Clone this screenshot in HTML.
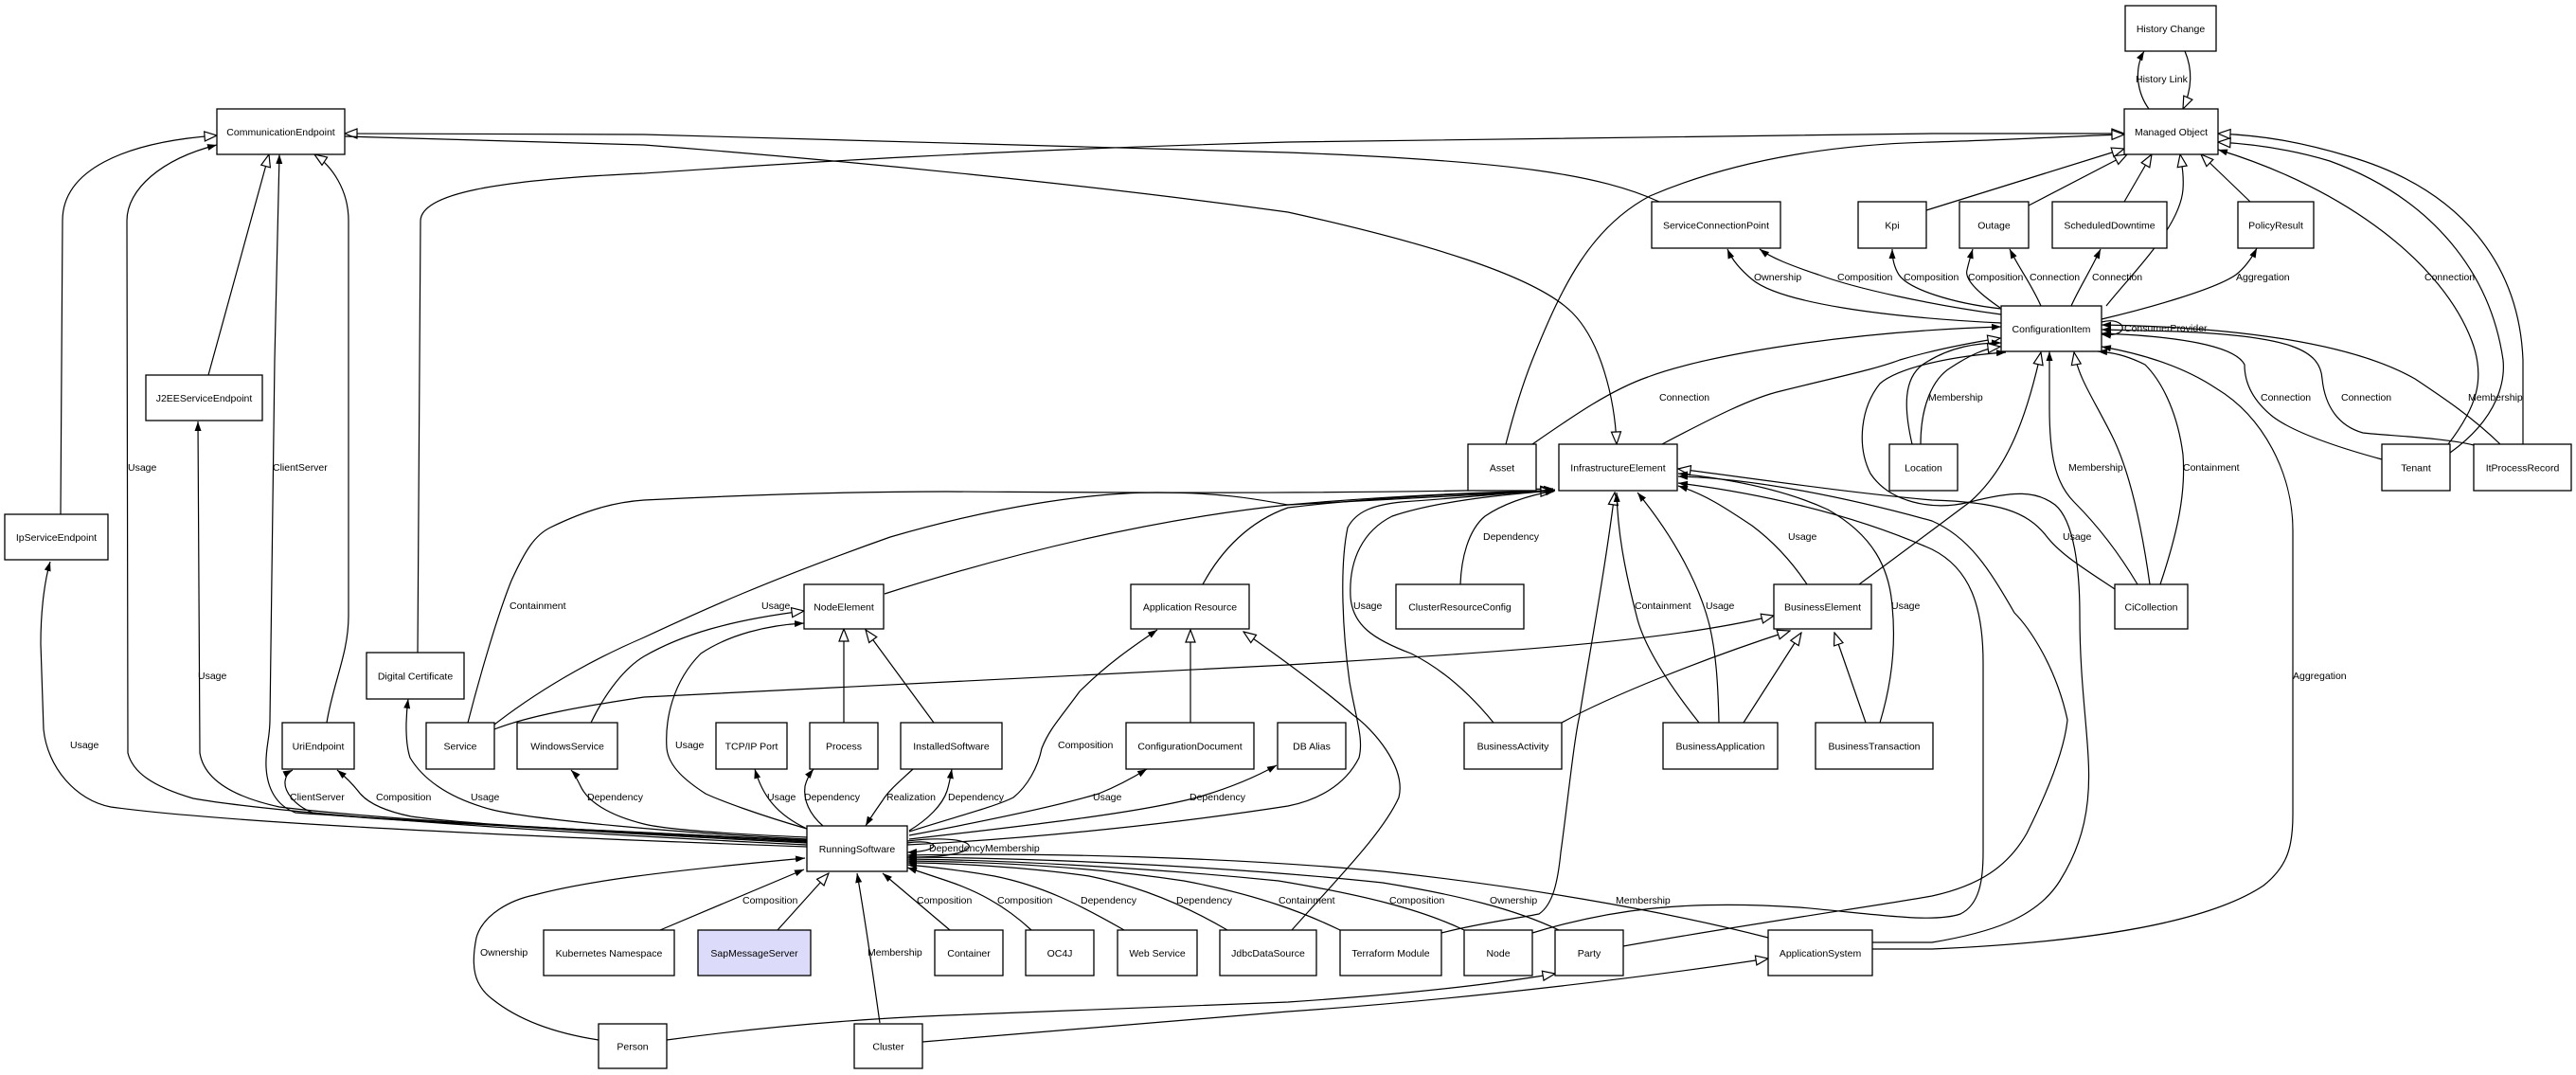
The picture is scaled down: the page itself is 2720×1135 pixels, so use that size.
<!DOCTYPE html>
<html><head><meta charset="utf-8"><style>
html,body{margin:0;padding:0;background:#fff;}
svg{display:block;}
text{font-family:"Liberation Sans",Arial,sans-serif;font-size:10.5px;fill:#000;}
.n{text-anchor:middle;}
path.e{fill:none;stroke:#000;stroke-width:1.2;}
rect{fill:#fff;stroke:#000;stroke-width:1.3;}
</style></head><body>
<svg width="2720" height="1135" viewBox="0 0 2720 1135" xmlns="http://www.w3.org/2000/svg">
<defs>
<marker id="f" viewBox="0 0 10 7" refX="10" refY="3.5" markerWidth="10" markerHeight="7" markerUnits="userSpaceOnUse" orient="auto"><path d="M0,0L10,3.5L0,7z" fill="#000"/></marker>
<marker id="h" viewBox="0 0 15 12" refX="14" refY="6" markerWidth="15" markerHeight="12" markerUnits="userSpaceOnUse" orient="auto"><path d="M1,1L14,6L1,11z" fill="#fff" stroke="#000" stroke-width="1.2"/></marker>
</defs>
<rect x="0" y="0" width="2720" height="1135" style="fill:#fff;stroke:none"/>

<!-- ===== EDGES ===== -->
<g>
<!-- History -->
<path class="e" marker-end="url(#f)" d="M2269,115 C2258,100 2252,75 2264,54"/>
<path class="e" marker-end="url(#h)" d="M2307,54 C2316,75 2314,95 2305,115"/>
<!-- SCP -> CE -->
<path class="e" marker-end="url(#h)" d="M1752,213 C1690,185 1600,170 1360,161 L680,142 L364,141"/>
<!-- CE -> IE -->
<path class="e" marker-end="url(#h)" d="M364,144 C500,147 600,150 680,153 C900,170 1150,195 1360,224 C1500,255 1620,290 1660,330 C1690,360 1705,420 1707,469"/>
<!-- DC -> MO -->
<path class="e" marker-end="url(#h)" d="M441,689 L444,233 C445,205 520,190 680,183 C800,175 1000,160 1360,150 L2040,141 L2243,141"/>
<!-- Asset -> MO -->
<path class="e" marker-end="url(#h)" d="M1590,469 C1600,430 1610,400 1618,380 C1650,300 1680,240 1742,207 C1840,165 1950,152 2040,150 C2120,148 2200,143 2243,142"/>
<path class="e" marker-end="url(#h)" d="M2034,222 L2243,157"/>
<path class="e" marker-end="url(#h)" d="M2142,217 L2246,163"/>
<path class="e" marker-end="url(#h)" d="M2243,213 L2272,163"/>
<path class="e" marker-end="url(#h)" d="M2224,323 C2250,290 2302,240 2305,200 C2306,185 2304,175 2302,163"/>
<path class="e" marker-end="url(#h)" d="M2376,213 L2324,163"/>
<path class="e" marker-end="url(#f)" d="M2585,469 C2615,430 2625,400 2610,360 C2580,280 2480,200 2342,158"/>
<path class="e" marker-end="url(#h)" d="M2587,478 C2640,440 2645,400 2643,380 C2630,290 2570,210 2460,170 C2420,158 2380,152 2342,150"/>
<path class="e" marker-end="url(#h)" d="M2664,469 L2664,380 C2660,280 2600,200 2480,165 C2430,150 2390,143 2342,141"/>
<!-- CI top edges -->
<path class="e" marker-end="url(#f)" d="M2113,341 C1990,335 1880,320 1850,295 C1838,285 1829,275 1824,263"/>
<path class="e" marker-end="url(#f)" d="M2113,332 C2040,322 1960,305 1920,290 C1890,280 1870,272 1858,263"/>
<path class="e" marker-end="url(#f)" d="M2113,326 C2060,320 2015,305 2005,290 C2000,282 1998,272 1998,263"/>
<path class="e" marker-end="url(#f)" d="M2112,325 C2090,310 2074,295 2077,285 C2079,276 2081,270 2083,263"/>
<path class="e" marker-end="url(#f)" d="M2155,323 C2145,300 2133,285 2122,263"/>
<path class="e" marker-end="url(#f)" d="M2187,323 C2195,305 2205,290 2218,263"/>
<path class="e" marker-end="url(#f)" d="M2219,337 C2270,325 2340,305 2361,290 C2370,283 2378,272 2383,262"/>
<path class="e" marker-end="url(#f)" d="M2219,340 C2245,333 2252,357 2219,353"/>
<!-- into CI -->
<path class="e" marker-end="url(#f)" d="M1618,469 C1660,440 1700,412 1740,398 C1800,375 1950,350 2113,345"/>
<path class="e" marker-end="url(#h)" d="M1755,469 C1810,440 1850,420 1880,413 C1940,398 1980,390 2006,380 C2040,370 2080,362 2112,357"/>
<path class="e" marker-end="url(#f)" d="M2019,469 C2010,430 2010,400 2030,385 C2060,365 2090,362 2113,362"/>
<path class="e" marker-end="url(#h)" d="M2028,469 C2028,430 2040,400 2060,388 C2080,375 2095,368 2112,366"/>
<path class="e" marker-end="url(#f)" d="M1977,995 L2040,995 C2100,985 2150,970 2175,930 C2200,890 2208,850 2205,800 C2203,760 2196,713 2196,650 C2196,600 2190,550 2170,533 C2150,518 2127,518 2080,530 C2040,540 1995,530 1975,500 C1960,470 1965,430 1985,405 C2005,388 2060,376 2118,372"/>
<path class="e" marker-end="url(#f)" d="M1618,985 C1700,960 1780,950 1900,958 C1980,965 2040,975 2070,965 C2090,955 2094,930 2094,900 L2094,700 C2094,640 2080,600 2040,580 C1950,540 1850,520 1772,510"/>
<path class="e" marker-end="url(#f)" d="M1714,999 C1850,975 1990,955 2040,946 C2090,935 2120,915 2140,880 C2165,830 2180,790 2183,760 C2170,700 2140,660 2127,647 C2100,600 2079,567 2040,550 C1950,525 1850,505 1772,503"/>
<path class="e" marker-end="url(#h)" d="M2233,622 C2200,600 2175,585 2160,565 C2140,540 2110,530 2040,528 C1950,520 1850,505 1772,495"/>
<path class="e" marker-end="url(#f)" d="M2257,617 C2235,580 2210,550 2190,530 C2170,510 2164,480 2164,430 L2164,371"/>
<path class="e" marker-end="url(#h)" d="M2270,617 C2262,560 2250,500 2230,460 C2210,420 2195,400 2190,372"/>
<path class="e" marker-end="url(#f)" d="M2281,617 C2300,560 2308,520 2305,480 C2300,440 2285,405 2265,385 C2245,375 2230,372 2215,371"/>
<path class="e" marker-end="url(#h)" d="M1963,617 C2000,590 2040,560 2080,530 C2120,495 2140,440 2155,372"/>
<path class="e" marker-end="url(#f)" d="M2612,470 C2580,462 2520,460 2495,457 C2470,450 2455,430 2452,400 C2450,370 2420,355 2300,350 L2219,348"/>
<path class="e" marker-end="url(#f)" d="M2515,485 C2460,470 2420,455 2400,440 C2375,420 2370,400 2370,385 C2360,365 2300,355 2219,352"/>
<path class="e" marker-end="url(#f)" d="M2640,469 C2610,440 2580,420 2550,400 C2480,360 2350,345 2219,343"/>
<path class="e" marker-end="url(#f)" d="M1977,1002 L2040,1002 C2200,995 2330,975 2390,935 C2415,915 2421,895 2421,860 L2421,560 C2421,500 2390,440 2340,410 C2310,390 2270,375 2219,366"/>
<!-- Left side: CE -->
<path class="e" marker-end="url(#h)" d="M64,543 L66,233 C66,180 130,150 229,143"/>
<path class="e" marker-end="url(#h)" d="M345,763 C352,720 368,690 368,650 L368,233 C368,200 350,175 332,163"/>
<path class="e" marker-end="url(#h)" d="M220,396 L284,163"/>
<!-- RS left bundle -->
<path class="e" marker-end="url(#f)" d="M852,894 C600,885 250,870 117,852 C80,845 50,810 46,770 L43,680 C43,640 48,610 53,593"/>
<path class="e" marker-end="url(#f)" d="M852,892 C600,880 300,860 204,843 C160,830 140,815 135,795 L134,233 C134,200 170,168 229,153"/>
<path class="e" marker-end="url(#f)" d="M852,890 C650,880 400,865 295,852 C240,840 215,820 211,795 L209,445"/>
<path class="e" marker-end="url(#f)" d="M852,889 C650,878 400,865 312,858 C290,850 282,830 281,810 C280,790 285,780 285,760 L290,380 L295,163"/>
<path class="e" marker-end="url(#f)" d="M852,888 C650,876 400,868 330,858 C310,850 300,835 301,825 C302,818 305,815 309,813"/>
<path class="e" marker-end="url(#f)" d="M852,887 C700,880 500,872 434,862 C400,855 385,845 378,835 C370,825 362,818 356,813"/>
<path class="e" marker-end="url(#f)" d="M852,886 C720,880 560,865 520,855 C470,842 445,820 433,800 C428,785 428,760 431,738"/>
<path class="e" marker-end="url(#f)" d="M852,884 C760,880 700,875 680,870 C640,860 620,845 613,830 C608,820 605,815 603,813"/>
<!-- Service / WS / NE -->
<path class="e" marker-end="url(#f)" d="M494,763 C505,720 525,650 540,613 C555,580 565,565 581,557 C620,538 650,530 680,528 C800,522 900,519 1000,519 C1200,520 1400,522 1640,516"/>
<path class="e" marker-end="url(#h)" d="M522,765 C580,720 640,690 680,673 C740,645 810,613 940,567 C1050,535 1150,520 1222,520 C1300,520 1340,530 1360,533 L1640,518"/>
<path class="e" marker-end="url(#h)" d="M522,770 C560,755 620,745 680,736 L1360,702 C1550,690 1750,680 1873,650"/>
<path class="e" marker-end="url(#h)" d="M624,763 C640,730 660,705 680,693 C720,670 770,655 849,645"/>
<path class="e" marker-end="url(#f)" d="M852,875 C800,860 760,845 745,838 C725,825 706,810 704,790 C702,760 710,720 740,690 C770,670 810,660 849,658"/>
<path class="e" marker-end="url(#h)" d="M891,763 L891,664"/>
<path class="e" marker-end="url(#h)" d="M986,763 L914,665"/>
<path class="e" marker-end="url(#h)" d="M934,627 C1050,590 1200,550 1360,533 C1450,525 1550,520 1640,518"/>
<path class="e" marker-end="url(#h)" d="M1270,617 C1290,580 1320,550 1360,536 C1450,525 1560,520 1640,519"/>
<path class="e" marker-end="url(#f)" d="M960,878 C1010,862 1050,852 1070,842 C1085,830 1096,810 1100,790 C1108,770 1118,760 1140,730 C1170,700 1200,680 1222,665"/>
<path class="e" marker-end="url(#h)" d="M1257,763 L1257,665"/>
<path class="e" marker-end="url(#h)" d="M1364,982 C1410,930 1460,880 1477,842 C1485,810 1450,770 1429,755 C1400,730 1360,700 1313,667"/>
<path class="e" marker-end="url(#f)" d="M1542,617 C1543,590 1550,560 1568,545 C1590,530 1620,522 1642,518"/>
<path class="e" marker-end="url(#f)" d="M958,892 C1100,885 1250,868 1360,851 C1390,845 1420,830 1435,800 C1440,780 1432,760 1425,720 C1418,670 1414,600 1423,557 C1432,540 1450,533 1480,530 C1550,525 1600,520 1642,517"/>
<path class="e" marker-end="url(#f)" d="M1577,763 C1550,730 1520,705 1490,690 C1450,675 1428,660 1426,630 C1424,590 1440,560 1470,545 C1520,528 1600,521 1642,518"/>
<path class="e" marker-end="url(#h)" d="M1522,985 C1560,975 1600,970 1625,965 C1640,955 1645,930 1648,900 C1655,850 1662,780 1668,755 C1680,680 1695,600 1705,520"/>
<path class="e" marker-end="url(#f)" d="M1794,763 C1760,720 1735,680 1728,650 C1715,600 1708,560 1707,520"/>
<path class="e" marker-end="url(#f)" d="M1815,763 C1814,720 1812,690 1805,660 C1795,620 1770,570 1729,520"/>
<path class="e" marker-end="url(#h)" d="M1841,763 L1902,668"/>
<path class="e" marker-end="url(#h)" d="M1649,763 C1700,735 1800,695 1890,666"/>
<path class="e" marker-end="url(#h)" d="M1970,763 L1937,668"/>
<path class="e" marker-end="url(#f)" d="M1908,617 C1890,590 1870,570 1850,555 C1820,535 1800,522 1772,513"/>
<path class="e" marker-end="url(#f)" d="M1985,763 C1998,720 2002,680 1998,640 C1995,600 1978,565 1930,538 C1880,515 1820,505 1772,500"/>
<!-- RS top -->
<path class="e" marker-end="url(#f)" d="M852,875 C820,860 805,840 797,812"/>
<path class="e" marker-end="url(#f)" d="M869,872 C855,860 848,845 850,830 C852,822 855,817 859,812"/>
<path class="e" marker-end="url(#f)" d="M964,812 C950,825 938,835 932,845 C925,855 918,865 914,872"/>
<path class="e" marker-end="url(#f)" d="M960,877 C980,865 995,850 1000,835 C1003,825 1004,818 1005,812"/>
<path class="e" marker-end="url(#f)" d="M960,882 C1050,865 1120,850 1160,838 C1180,830 1198,820 1211,812"/>
<path class="e" marker-end="url(#f)" d="M960,886 C1100,870 1200,858 1260,843 C1300,832 1330,818 1348,808"/>
<path class="e" marker-end="url(#f)" d="M958,890 C990,885 1000,898 958,900"/>
<path class="e" marker-end="url(#f)" d="M958,888 C1040,878 1050,906 958,905"/>
<!-- bottom into RS -->
<path class="e" marker-end="url(#f)" d="M632,1098 C580,1090 545,1075 520,1055 C500,1040 497,1020 503,990 C510,965 540,950 564,945 C620,930 700,920 850,906"/>
<path class="e" marker-end="url(#f)" d="M697,982 L849,918"/>
<path class="e" marker-end="url(#h)" d="M821,982 L875,922"/>
<path class="e" marker-end="url(#f)" d="M929,1080 C922,1030 915,980 905,922"/>
<path class="e" marker-end="url(#f)" d="M1003,982 L932,922"/>
<path class="e" marker-end="url(#f)" d="M1089,982 C1060,955 1030,940 1000,930 C985,925 970,920 958,916"/>
<path class="e" marker-end="url(#f)" d="M1187,982 C1140,955 1100,935 1050,925 C1010,918 980,915 958,913"/>
<path class="e" marker-end="url(#f)" d="M1296,982 C1250,955 1200,935 1150,925 C1080,915 1000,911 958,911"/>
<path class="e" marker-end="url(#f)" d="M1415,982 C1380,965 1330,945 1250,930 C1150,915 1050,910 958,909"/>
<path class="e" marker-end="url(#f)" d="M1546,982 C1500,960 1440,945 1350,930 C1200,915 1050,908 958,907"/>
<path class="e" marker-end="url(#f)" d="M1646,982 C1600,960 1540,945 1460,932 C1300,915 1100,906 958,905"/>
<path class="e" marker-end="url(#f)" d="M1867,990 C1750,960 1600,935 1460,920 C1300,905 1100,900 958,903"/>
<path class="e" marker-end="url(#h)" d="M704,1098 C800,1085 900,1076 1000,1072 L1360,1058 C1450,1052 1560,1042 1642,1028"/>
<path class="e" marker-end="url(#h)" d="M974,1100 L1360,1068 C1550,1055 1750,1030 1867,1012"/>
</g>

<!-- ===== NODES ===== -->
<g>
<rect x="229" y="115" width="135" height="48"/><text class="n" x="296.5" y="143">CommunicationEndpoint</text>
<rect x="2244" y="6" width="96" height="48"/><text class="n" x="2292" y="34">History Change</text>
<rect x="2243" y="115" width="99" height="48"/><text class="n" x="2292.5" y="143">Managed Object</text>
<rect x="1744" y="213" width="136" height="49"/><text class="n" x="1812" y="241.5">ServiceConnectionPoint</text>
<rect x="1962" y="213" width="72" height="49"/><text class="n" x="1998" y="241.5">Kpi</text>
<rect x="2069" y="213" width="73" height="49"/><text class="n" x="2105.5" y="241.5">Outage</text>
<rect x="2167" y="213" width="121" height="49"/><text class="n" x="2227.5" y="241.5">ScheduledDowntime</text>
<rect x="2363" y="213" width="80" height="49"/><text class="n" x="2403" y="241.5">PolicyResult</text>
<rect x="2113" y="323" width="106" height="48"/><text class="n" x="2166" y="351">ConfigurationItem</text>
<rect x="154" y="396" width="123" height="48"/><text class="n" x="215.5" y="424">J2EEServiceEndpoint</text>
<rect x="1550" y="469" width="72" height="49"/><text class="n" x="1586" y="497.5">Asset</text>
<rect x="1646" y="469" width="125" height="49"/><text class="n" x="1708.5" y="497.5">InfrastructureElement</text>
<rect x="1995" y="469" width="72" height="49"/><text class="n" x="2031" y="497.5">Location</text>
<rect x="2515" y="469" width="72" height="49"/><text class="n" x="2551" y="497.5">Tenant</text>
<rect x="2612" y="469" width="103" height="49"/><text class="n" x="2663.5" y="497.5">ItProcessRecord</text>
<rect x="5" y="543" width="109" height="48"/><text class="n" x="59.5" y="571">IpServiceEndpoint</text>
<rect x="849" y="617" width="84" height="47"/><text class="n" x="891" y="644.5">NodeElement</text>
<rect x="1194" y="617" width="125" height="47"/><text class="n" x="1256.5" y="644.5">Application Resource</text>
<rect x="1474" y="617" width="135" height="47"/><text class="n" x="1541.5" y="644.5">ClusterResourceConfig</text>
<rect x="1873" y="617" width="103" height="47"/><text class="n" x="1924.5" y="644.5">BusinessElement</text>
<rect x="2233" y="617" width="77" height="47"/><text class="n" x="2271.5" y="644.5">CiCollection</text>
<rect x="387" y="689" width="103" height="49"/><text class="n" x="438.5" y="717.5">Digital Certificate</text>
<rect x="298" y="763" width="76" height="49"/><text class="n" x="336" y="791.5">UriEndpoint</text>
<rect x="450" y="763" width="72" height="49"/><text class="n" x="486" y="791.5">Service</text>
<rect x="546" y="763" width="106" height="49"/><text class="n" x="599" y="791.5">WindowsService</text>
<rect x="756" y="763" width="75" height="49"/><text class="n" x="793.5" y="791.5">TCP/IP Port</text>
<rect x="855" y="763" width="72" height="49"/><text class="n" x="891" y="791.5">Process</text>
<rect x="951" y="763" width="107" height="49"/><text class="n" x="1004.5" y="791.5">InstalledSoftware</text>
<rect x="1189" y="763" width="135" height="49"/><text class="n" x="1256.5" y="791.5">ConfigurationDocument</text>
<rect x="1349" y="763" width="72" height="49"/><text class="n" x="1385" y="791.5">DB Alias</text>
<rect x="1546" y="763" width="103" height="49"/><text class="n" x="1597.5" y="791.5">BusinessActivity</text>
<rect x="1756" y="763" width="121" height="49"/><text class="n" x="1816.5" y="791.5">BusinessApplication</text>
<rect x="1917" y="763" width="124" height="49"/><text class="n" x="1979" y="791.5">BusinessTransaction</text>
<rect x="852" y="872" width="106" height="48"/><text class="n" x="905" y="900">RunningSoftware</text>
<rect x="574" y="982" width="138" height="48"/><text class="n" x="643" y="1010">Kubernetes Namespace</text>
<rect x="737" y="982" width="119" height="48" style="fill:#dcdcfa"/><text class="n" x="796.5" y="1010">SapMessageServer</text>
<rect x="987" y="982" width="72" height="48"/><text class="n" x="1023" y="1010">Container</text>
<rect x="1083" y="982" width="72" height="48"/><text class="n" x="1119" y="1010">OC4J</text>
<rect x="1180" y="982" width="84" height="48"/><text class="n" x="1222" y="1010">Web Service</text>
<rect x="1288" y="982" width="102" height="48"/><text class="n" x="1339" y="1010">JdbcDataSource</text>
<rect x="1415" y="982" width="107" height="48"/><text class="n" x="1468.5" y="1010">Terraform Module</text>
<rect x="1546" y="982" width="72" height="48"/><text class="n" x="1582" y="1010">Node</text>
<rect x="1642" y="982" width="72" height="48"/><text class="n" x="1678" y="1010">Party</text>
<rect x="1867" y="982" width="110" height="48"/><text class="n" x="1922" y="1010">ApplicationSystem</text>
<rect x="632" y="1081" width="72" height="47"/><text class="n" x="668" y="1108.5">Person</text>
<rect x="902" y="1081" width="72" height="47"/><text class="n" x="938" y="1108.5">Cluster</text>
</g>

<!-- ===== EDGE LABELS ===== -->
<g>
<text x="2255" y="87">History Link</text>
<text x="1852" y="296">Ownership</text>
<text x="1940" y="296">Composition</text>
<text x="2010" y="296">Composition</text>
<text x="2078" y="296">Composition</text>
<text x="2143" y="296">Connection</text>
<text x="2209" y="296">Connection</text>
<text x="2361" y="296">Aggregation</text>
<text x="2560" y="296">Connection</text>
<text x="2243" y="350">ConsumerProvider</text>
<text x="1752" y="423">Connection</text>
<text x="2036" y="423">Membership</text>
<text x="2387" y="423">Connection</text>
<text x="2472" y="423">Connection</text>
<text x="2606" y="423">Membership</text>
<text x="135" y="497">Usage</text>
<text x="288" y="497">ClientServer</text>
<text x="2184" y="497">Membership</text>
<text x="2305" y="497">Containment</text>
<text x="1566" y="570">Dependency</text>
<text x="1888" y="570">Usage</text>
<text x="2178" y="570">Usage</text>
<text x="538" y="643">Containment</text>
<text x="804" y="643">Usage</text>
<text x="1429" y="643">Usage</text>
<text x="1726" y="643">Containment</text>
<text x="1801" y="643">Usage</text>
<text x="1997" y="643">Usage</text>
<text x="209" y="717">Usage</text>
<text x="2421" y="717">Aggregation</text>
<text x="74" y="790">Usage</text>
<text x="713" y="790">Usage</text>
<text x="1117" y="790">Composition</text>
<text x="306" y="845">ClientServer</text>
<text x="397" y="845">Composition</text>
<text x="497" y="845">Usage</text>
<text x="620" y="845">Dependency</text>
<text x="810" y="845">Usage</text>
<text x="849" y="845">Dependency</text>
<text x="936" y="845">Realization</text>
<text x="1001" y="845">Dependency</text>
<text x="1154" y="845">Usage</text>
<text x="1256" y="845">Dependency</text>
<text x="981" y="899">Dependency</text>
<text x="1040" y="899">Membership</text>
<text x="784" y="954">Composition</text>
<text x="968" y="954">Composition</text>
<text x="1053" y="954">Composition</text>
<text x="1141" y="954">Dependency</text>
<text x="1242" y="954">Dependency</text>
<text x="1350" y="954">Containment</text>
<text x="1467" y="954">Composition</text>
<text x="1573" y="954">Ownership</text>
<text x="1706" y="954">Membership</text>
<text x="507" y="1009">Ownership</text>
<text x="916" y="1009">Membership</text>
</g>
</svg>
</body></html>
